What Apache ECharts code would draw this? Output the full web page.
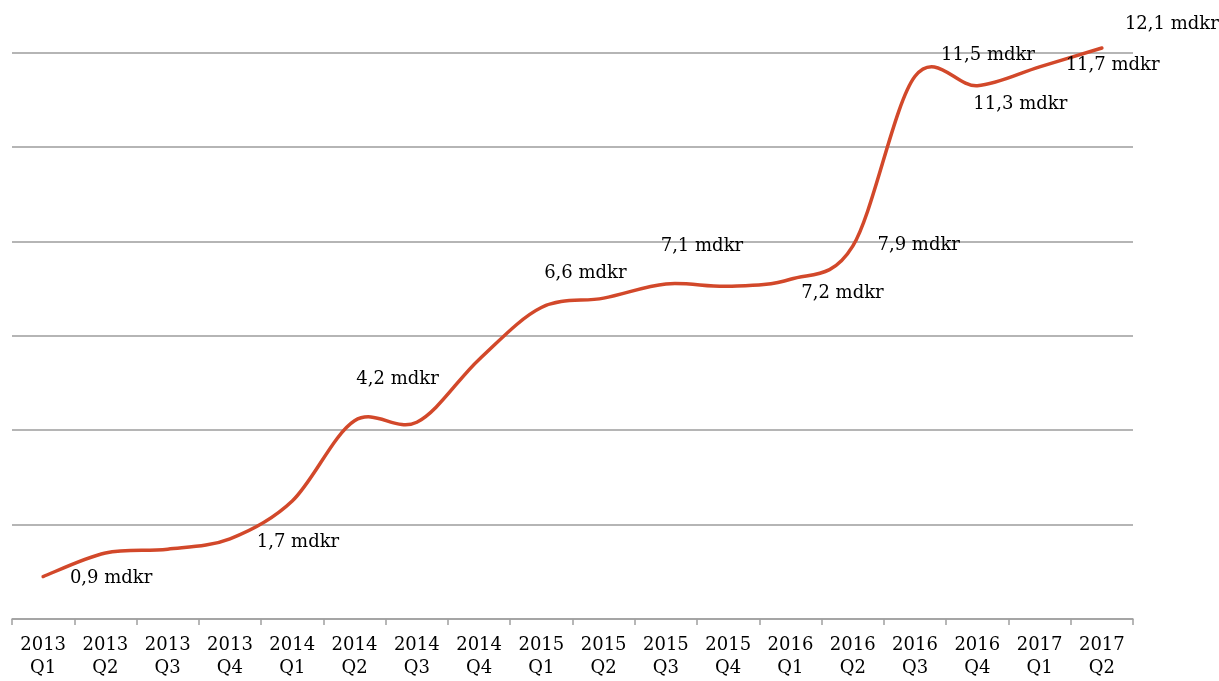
<!DOCTYPE html>
<html>
<head>
<meta charset="utf-8">
<script src="https://cdn.jsdelivr.net/npm/echarts@6/dist/echarts.min.js"></script>
<style>
html,body{margin:0;padding:0;background:#fff;}
#c{width:1219px;height:681px;}
</style>
</head>
<body>
<div id="c"></div>
<script>
// Data
var categories = ['2013\nQ1','2013\nQ2','2013\nQ3','2013\nQ4','2014\nQ1','2014\nQ2','2014\nQ3','2014\nQ4','2015\nQ1','2015\nQ2','2015\nQ3','2015\nQ4','2016\nQ1','2016\nQ2','2016\nQ3','2016\nQ4','2017\nQ1','2017\nQ2'];
var values = [0.9, 1.4, 1.48, 1.7, 2.5, 4.2, 4.17, 5.5, 6.6, 6.8, 7.1, 7.05, 7.2, 7.9, 11.5, 11.3, 11.7, 12.1];
var labeled = [true, false, false, true, false, true, false, false, true, false, true, false, true, true, true, true, true, true];
var yTicks = [0, 2, 4, 6, 8, 10, 12];

// Label placement (style only): offset of label center from its point
var labelOffsets = [[68,2],null,null,[68,4],null,[43,-41],null,null,[44,-34],null,[36,-38],null,[52,14],[66,-1],[73,-21],[43,19],[73,-2],[70,-24]];

var FONT = '"DejaVu Serif", serif';
var LINE_COLOR = '#d2482a';

var labelData = values.map(function(v, i){
  if (!labeled[i]) return null;
  return { value: v, label: { offset: labelOffsets[i] } };
});

// Smooth curve (Catmull-Rom style Bezier, like spreadsheet smoothed lines),
// drawn through the chart's own coordinate system.
function renderCurve(params, api) {
  if (params.dataIndex !== 0) return null;
  var pts = values.map(function(v, i){ return api.coord([i, v]); });
  var n = pts.length;
  var d = 'M' + pts[0][0] + ' ' + pts[0][1];
  for (var i = 0; i < n - 1; i++) {
    var p0 = pts[Math.max(i - 1, 0)], p1 = pts[i], p2 = pts[i + 1], p3 = pts[Math.min(i + 2, n - 1)];
    var c1x = p1[0] + (p2[0] - p0[0]) / 6, c1y = p1[1] + (p2[1] - p0[1]) / 6;
    var c2x = p2[0] - (p3[0] - p1[0]) / 6, c2y = p2[1] - (p3[1] - p1[1]) / 6;
    d += ' C' + c1x + ' ' + c1y + ' ' + c2x + ' ' + c2y + ' ' + p2[0] + ' ' + p2[1];
  }
  return {
    type: 'path',
    shape: { pathData: d },
    style: { fill: 'none', stroke: LINE_COLOR, lineWidth: 3.5, lineCap: 'round', lineJoin: 'round' }
  };
}

var chart = echarts.init(document.getElementById('c'));
chart.setOption({
  animation: false,
  backgroundColor: '#fff',
  grid: { left: 12, right: 86, top: 52.7, bottom: 62, containLabel: false },
  xAxis: {
    type: 'category',
    data: categories,
    boundaryGap: true,
    axisLine: { show: true, lineStyle: { color: '#a0a0a0', width: 1.5 } },
    axisTick: { show: true, length: 6, lineStyle: { color: '#a0a0a0', width: 1.5 } },
    axisLabel: { color: '#000', fontFamily: FONT, fontSize: 18, lineHeight: 23, margin: 15, interval: 0 },
    splitLine: { show: false }
  },
  yAxis: {
    type: 'value',
    min: yTicks[0],
    max: yTicks[yTicks.length - 1],
    interval: yTicks[1] - yTicks[0],
    axisLine: { show: false },
    axisTick: { show: false },
    axisLabel: { show: false },
    splitLine: { show: true, lineStyle: { color: '#9c9c9c', width: 1.5 } }
  },
  series: [
    {
      type: 'custom',
      data: values,
      renderItem: renderCurve,
      clip: false,
      silent: true,
      z: 3
    },
    {
      type: 'scatter',
      data: labelData,
      symbolSize: 0,
      clip: false,
      silent: true,
      itemStyle: { color: '#000', opacity: 1 },
      label: {
        show: true,
        position: 'inside',
        color: '#000',
        opacity: 1,
        textBorderWidth: 0,
        fontFamily: FONT,
        fontSize: 18,
        formatter: function(p){ return p.value.toFixed(1).replace('.', ',') + ' mdkr'; }
      },
      z: 4
    }
  ]
});
</script>
</body>
</html>
